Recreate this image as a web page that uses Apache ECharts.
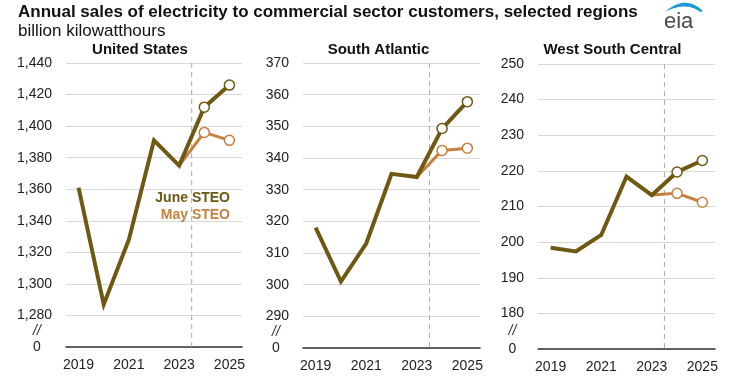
<!DOCTYPE html>
<html><head><meta charset="utf-8">
<script src="https://cdn.jsdelivr.net/npm/echarts@6/dist/echarts.min.js"></script>
<style>html,body{margin:0;padding:0;background:#fff}#c{width:743px;height:387px}</style>
</head><body><div id="c"></div>
<script>
// ---- data ----
const years = ['2019', '2020', '2021', '2022', '2023', '2024', '2025'];
const usJune = [1361, 1287, 1328, 1391, 1375, 1412, 1426];
const usMay = [null, null, null, null, 1375, 1396, 1391];
const saJune = [318, 301, 313, 335, 334, 349.3, 357.8];
const saMay = [null, null, null, null, 334, 342.4, 343.1];
const wscJune = [198.4, 197.4, 202, 218.4, 213.2, 219.7, 222.9];
const wscMay = [null, null, null, null, 213.2, 213.7, 211.2];
const panelTitles = ['United States', 'South Atlantic', 'West South Central'];
const yMin = [1260, 280, 170];
const yMax = [1440, 370, 250];
const yStep = [20, 10, 10];
const legendLabels = ['June STEO', 'May STEO'];
const titleText = 'Annual sales of electricity to commercial sector customers, selected regions';
const unitText = 'billion kilowatthours';

// ---- style ----
const JUNE = '#6E5812';
const MAY = '#C8803F';
const FONT = '"Liberation Sans", Arial, sans-serif';
const grids = [
  {left: 66, right: 743 - 242, top: 63, bottom: 387 - 347},
  {left: 303, right: 743 - 480, top: 63, bottom: 387 - 348},
  {left: 538, right: 743 - 715, top: 64, bottom: 387 - 349}
];
const juneData = [usJune, saJune, wscJune];
const mayData = [usMay, saMay, wscMay];

function fmt(v) { return String(v).replace(/\B(?=(\d{3})+(?!\d))/g, ','); }

const chart = echarts.init(document.getElementById('c'), null, {renderer: 'canvas'});
const xAxis = [], yAxis = [], series = [];
for (let i = 0; i < 3; i++) {
  xAxis.push({
    type: 'category', gridIndex: i, data: years, boundaryGap: true,
    axisLine: {lineStyle: {color: '#333', width: 1.5}},
    axisTick: {show: false},
    axisLabel: {interval: 1, color: '#222', fontSize: 14, fontFamily: FONT, margin: 11}
  });
  const mn = yMin[i];
  yAxis.push({
    type: 'value', gridIndex: i, min: mn, max: yMax[i], interval: yStep[i],
    axisLine: {show: false}, axisTick: {show: false},
    splitLine: {lineStyle: {color: '#d9d9d9', width: 1}},
    axisLabel: {color: '#222', fontSize: 14, fontFamily: FONT, margin: 14,
      formatter: v => v === mn ? '' : fmt(v)}
  });
  const sym = (v, p) => p.dataIndex >= 5 ? 'circle' : 'none';
  series.push({
    type: 'line', xAxisIndex: i, yAxisIndex: i, data: mayData[i],
    symbol: sym, symbolSize: 10, showAllSymbol: true,
    lineStyle: {color: MAY, width: 3},
    itemStyle: {color: '#fff', borderColor: MAY, borderWidth: 1.5},
    z: 2, silent: true
  });
  series.push({
    type: 'line', xAxisIndex: i, yAxisIndex: i, data: juneData[i],
    symbol: sym, symbolSize: 10, showAllSymbol: true,
    lineStyle: {color: JUNE, width: 4, join: 'miter'},
    itemStyle: {color: '#fff', borderColor: JUNE, borderWidth: 1.5},
    z: 3, silent: true
  });
}

chart.setOption({
  animation: false,
  grid: grids,
  xAxis: xAxis, yAxis: yAxis, series: series
});

// graphics positioned via the library's scales
const g = [];
g.push({type: 'text', x: 18, y: 12, z: 10, style: {text: titleText, font: 'bold 17px ' + FONT, fill: '#111', verticalAlign: 'middle'}});
g.push({type: 'text', x: 18, y: 31, z: 10, style: {text: unitText, font: '17px ' + FONT, fill: '#111', verticalAlign: 'middle'}});
const titleCx = [140, 378.5, 612.5];
const zeroOff = [29, 27, 25.5];
for (let i = 0; i < 3; i++) {
  g.push({type: 'text', x: titleCx[i], y: 50, z: 10, style: {text: panelTitles[i], font: 'bold 15px ' + FONT, fill: '#111', align: 'center', verticalAlign: 'middle'}});
  const p0 = chart.convertToPixel({xAxisIndex: i, yAxisIndex: i}, [years[4], yMax[i]]);
  const p1 = chart.convertToPixel({xAxisIndex: i, yAxisIndex: i}, [years[5], yMin[i]]);
  const xm = (p0[0] + p1[0]) / 2;
  g.push({type: 'line', z: 1, shape: {x1: xm, y1: p0[1], x2: xm, y2: p1[1]}, style: {stroke: '#aaa', lineWidth: 1, lineDash: [5, 4]}});
  const yZero = chart.convertToPixel({yAxisIndex: i}, yMin[i]);
  const yNext = chart.convertToPixel({yAxisIndex: i}, yMin[i] + yStep[i]);
  const lx = grids[i].left - zeroOff[i];
  g.push({type: 'text', x: lx, y: yZero, z: 10, style: {text: '0', font: '14px ' + FONT, fill: '#222', align: 'center', verticalAlign: 'middle'}});
  g.push({type: 'text', x: lx, y: (yZero + yNext) / 2, z: 10, style: {text: '//', font: 'italic 14px ' + FONT, fill: '#335', align: 'center', verticalAlign: 'middle'}});
}
// legend labels inside US panel
g.push({type: 'text', x: 230, y: 198, z: 10, style: {text: legendLabels[0], font: 'bold 14px ' + FONT, fill: JUNE, align: 'right', verticalAlign: 'middle'}});
g.push({type: 'text', x: 230, y: 215, z: 10, style: {text: legendLabels[1], font: 'bold 14px ' + FONT, fill: MAY, align: 'right', verticalAlign: 'middle'}});
// eia logo (decorative swoosh)
function quad(a, c, b, n) {
  const pts = [];
  for (let k = 0; k <= n; k++) {
    const t = k / n, u = 1 - t;
    pts.push([u * u * a[0] + 2 * u * t * c[0] + t * t * b[0], u * u * a[1] + 2 * u * t * c[1] + t * t * b[1]]);
  }
  return pts;
}
const arcPts = quad([665, 12], [685, -6], [703, 11], 24).concat(quad([700, 12], [686, 1], [665, 12], 24));
g.push({type: 'polygon', z: 10, shape: {points: arcPts}, style: {fill: '#1E9AD6'}});
g.push({type: 'text', x: 664, y: 22, z: 10, style: {text: 'eia', font: '22px ' + FONT, fill: '#4a4a4a', verticalAlign: 'middle'}});

chart.setOption({graphic: g});
</script></body></html>
